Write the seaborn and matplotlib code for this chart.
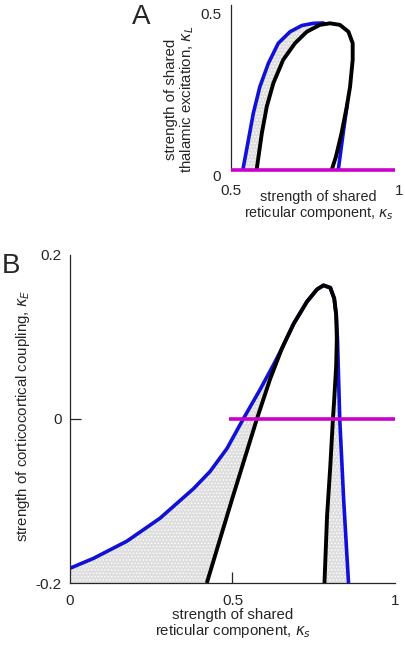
import numpy as np
import pandas as pd
import seaborn as sns
import matplotlib.pyplot as plt

# panel A: thalamic excitation vs shared reticular component
a_blue_ks = [0.536, 0.553, 0.568, 0.588, 0.614, 0.644, 0.680, 0.716, 0.751, 0.785]
a_blue_kl = [0.0, 0.096, 0.182, 0.267, 0.342, 0.406, 0.443, 0.463, 0.470, 0.471]
a_blue_r_ks = [0.827, 0.842, 0.855]
a_blue_r_kl = [0.0, 0.118, 0.215]
a_black_ks = [0.578, 0.594, 0.609, 0.629, 0.659, 0.695, 0.731, 0.771, 0.802, 0.832, 0.858,
              0.871, 0.871, 0.863, 0.853, 0.837, 0.820, 0.807]
a_black_kl = [0.0, 0.118, 0.203, 0.278, 0.353, 0.406, 0.443, 0.465, 0.470, 0.465, 0.443,
              0.406, 0.353, 0.267, 0.203, 0.118, 0.043, 0.0]
a_mag_ks = [0.5, 1.0]
a_mag_kl = [0.0, 0.0]

# panel B: corticocortical coupling vs shared reticular component
b_blue_ks = [0.0, 0.072, 0.175, 0.277, 0.380, 0.431, 0.483, 0.533, 0.585, 0.626, 0.652,
             0.688, 0.729, 0.760, 0.780, 0.801, 0.813, 0.819, 0.823, 0.830, 0.842, 0.857]
b_blue_ke = [-0.182, -0.170, -0.149, -0.121, -0.085, -0.064, -0.036, 0.0, 0.036, 0.066, 0.086,
             0.116, 0.143, 0.158, 0.163, 0.160, 0.147, 0.127, 0.098, 0.0, -0.098, -0.2]
b_black_ks = [0.421, 0.459, 0.497, 0.536, 0.575, 0.616, 0.652, 0.688, 0.729, 0.760, 0.780,
              0.801, 0.813, 0.819, 0.821, 0.819, 0.813, 0.809, 0.801, 0.791, 0.783]
b_black_ke = [-0.2, -0.15, -0.1, -0.05, 0.0, 0.049, 0.086, 0.116, 0.143, 0.158, 0.163,
              0.160, 0.147, 0.127, 0.098, 0.065, 0.024, 0.0, -0.057, -0.118, -0.2]
b_mag_ks = [0.49, 1.0]
b_mag_ke = [0.0, 0.0]

blue = '#1010d8'
magenta = '#cc00cc'
fillc = '#dedede'

sns.set_style("ticks")
plt.rcParams['font.family'] = ['Liberation Sans', 'DejaVu Sans']
plt.rcParams['hatch.color'] = '#bdbdbd'
plt.rcParams['hatch.linewidth'] = 0.6

fig = plt.figure(figsize=(4.05, 6.45), dpi=100)
axA = fig.add_axes([0.5704, 0.7364, 0.4049, 0.2565])
axB = fig.add_axes([0.1728, 0.0961, 0.8025, 0.5086])

line_kw = dict(sort=False, estimator=None, solid_capstyle='butt')

# ---- panel A ----
polyA_x = a_blue_ks + a_black_ks[:8][::-1]
polyA_y = a_blue_kl + a_black_kl[:8][::-1]
axA.fill(polyA_x, polyA_y, facecolor=fillc, hatch='.....', linewidth=0, zorder=1)

sns.lineplot(x=a_blue_ks, y=a_blue_kl, color=blue, lw=2.6, ax=axA, zorder=2, **line_kw)
sns.lineplot(x=a_blue_r_ks, y=a_blue_r_kl, color=blue, lw=2.6, ax=axA, zorder=2, **line_kw)
sns.lineplot(x=a_black_ks, y=a_black_kl, color='black', lw=2.8, ax=axA, zorder=3, **line_kw)
sns.lineplot(x=a_mag_ks, y=a_mag_kl, color=magenta, lw=2.6, ax=axA, zorder=4, clip_on=False, **line_kw)

axA.set_xlim(0.5, 1.0)
axA.set_ylim(0, 0.53)
axA.set_xticks([0.5, 1.0], ['0.5', '1'])
axA.set_yticks([0, 0.5], ['0', '0.5'])
axA.tick_params(length=0, labelsize=11)
axA.tick_params(axis='x', pad=10)
axA.tick_params(axis='y', pad=7)
axA.get_xticklabels()[1].set_ha('left')
axA.get_yticklabels()[0].set_va('top')
for s in ['top', 'right', 'bottom']:
    axA.spines[s].set_visible(False)
axA.spines['left'].set_linewidth(0.9)
axA.set_xlabel('strength of shared\nreticular component, $\\kappa_s$', fontsize=10.4, linespacing=1.0)
axA.xaxis.set_label_coords(0.535, -0.118)
axA.set_ylabel('strength of shared\nthalamic excitation, $\\kappa_L$', fontsize=10.8, linespacing=1.0)
axA.yaxis.set_label_coords(-0.215, 0.43)

# ---- panel B ----
left_x = b_blue_ks[:11] + b_black_ks[:7][::-1] + [0.0]
left_y = b_blue_ke[:11] + b_black_ke[:7][::-1] + [-0.2]
axB.fill(left_x, left_y, facecolor=fillc, hatch='.....', linewidth=0, zorder=1)
right_x = b_black_ks[14:] + b_blue_ks[18:][::-1]
right_y = b_black_ke[14:] + b_blue_ke[18:][::-1]
axB.fill(right_x, right_y, facecolor=fillc, hatch='.....', linewidth=0, zorder=1)

sns.lineplot(x=b_blue_ks, y=b_blue_ke, color=blue, lw=2.6, ax=axB, zorder=2, **line_kw)
sns.lineplot(x=b_black_ks, y=b_black_ke, color='black', lw=2.8, ax=axB, zorder=3, **line_kw)
sns.lineplot(x=b_mag_ks, y=b_mag_ke, color=magenta, lw=2.6, ax=axB, zorder=4, **line_kw)

axB.set_xlim(0, 1.0)
axB.set_ylim(-0.2, 0.2)
axB.set_xticks([0, 0.5, 1.0], ['0', '0.5', '1'])
axB.set_yticks([-0.2, 0, 0.2], ['-0.2', '0', '0.2'])
axB.tick_params(direction='in', length=8, width=0.9, labelsize=11)
axB.tick_params(axis='x', pad=8)
axB.tick_params(axis='y', pad=6)
for t in [axB.xaxis.get_major_ticks()[0], axB.xaxis.get_major_ticks()[2],
          axB.yaxis.get_major_ticks()[0], axB.yaxis.get_major_ticks()[2]]:
    t.tick1line.set_visible(False)
for s in ['top', 'right']:
    axB.spines[s].set_visible(False)
axB.spines['left'].set_linewidth(0.9)
axB.spines['bottom'].set_linewidth(0.9)
axB.set_xlabel('strength of shared\nreticular component, $\\kappa_s$', fontsize=10.8, linespacing=1.0)
axB.xaxis.set_label_coords(0.5015, -0.077)
axB.set_ylabel('strength of corticocortical coupling, $\\kappa_E$', fontsize=10.8)
axB.yaxis.set_label_coords(-0.117, 0.509)

fig.text(0.348, 0.974, 'A', fontsize=20, ha='center', va='center')
fig.text(0.027, 0.588, 'B', fontsize=20, ha='center', va='center')

fig.savefig('out.png', dpi=100)
